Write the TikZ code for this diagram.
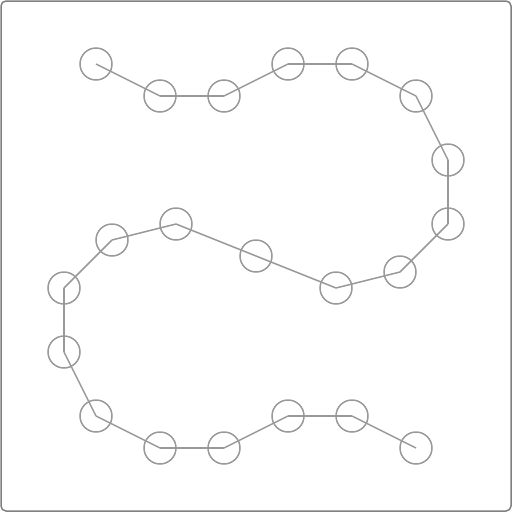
\documentclass[tikz,border=0pt]{standalone}
\definecolor{linegray}{HTML}{999999}
\definecolor{framegray}{HTML}{808080}
\tikzset{
  ring/.style={circle, draw=linegray, line width=1.5pt, minimum size=32pt, inner sep=0pt},
  link/.style={draw=linegray, line width=1.5pt}
}
\begin{document}
\begin{tikzpicture}[x=1pt,y=-1pt]
      \useasboundingbox (0,0) rectangle (512,512);
      \draw[framegray, line width=1.5pt, rounded corners=5pt] (1,1) rectangle (511,511);
      \draw
        (96,64) node[ring] (0){}
        (160,96) node[ring] (1){}
        (224,96) node[ring] (2){}
        (288,64) node[ring] (3){}
        (352,64) node[ring] (4){}
        (416,96) node[ring] (5){}
        (448,160) node[ring] (6){}
        (448,224) node[ring] (7){}
        (400,272) node[ring] (8){}
        (336,288) node[ring] (9){}
        (256,256) node[ring] (10){}
        (176,224) node[ring] (11){}
        (112,240) node[ring] (12){}
        (64,288) node[ring] (13){}
        (64,352) node[ring] (14){}
        (96,416) node[ring] (15){}
        (160,448) node[ring] (16){}
        (224,448) node[ring] (17){}
        (288,416) node[ring] (18){}
        (352,416) node[ring] (19){}
        (416,448) node[ring] (20){};
      \begin{scope}[link]
        \draw (0.center) to (1.center);
        \draw (1.center) to (2.center);
        \draw (2.center) to (3.center);
        \draw (3.center) to (4.center);
        \draw (4.center) to (5.center);
        \draw (5.center) to (6.center);
        \draw (6.center) to (7.center);
        \draw (7.center) to (8.center);
        \draw (8.center) to (9.center);
        \draw (9.center) to (10.center);
        \draw (10.center) to (11.center);
        \draw (11.center) to (12.center);
        \draw (12.center) to (13.center);
        \draw (13.center) to (14.center);
        \draw (14.center) to (15.center);
        \draw (15.center) to (16.center);
        \draw (16.center) to (17.center);
        \draw (17.center) to (18.center);
        \draw (18.center) to (19.center);
        \draw (19.center) to (20.center);
      \end{scope}
    \end{tikzpicture}
\end{document}
